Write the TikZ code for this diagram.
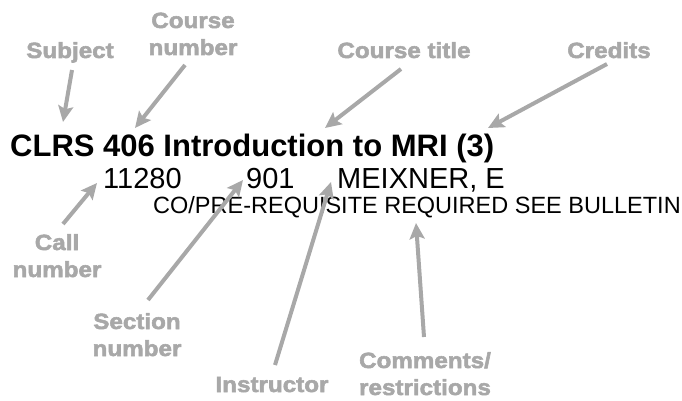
\documentclass[tikz,border=0pt]{standalone}
\usepackage{fontspec}
\setmainfont{Liberation Sans}
\newfontfamily\lblfont{Liberation Sans}[FakeStretch=1.1,FakeBold=2.5]
\usetikzlibrary{arrows.meta}
\definecolor{lblgrey}{RGB}{168,168,168}
\tikzset{
  lbl/.style={anchor=base,inner sep=0pt,text=lblgrey,font=\lblfont\bfseries\fontsize{22}{27}\selectfont},
  maintitle/.style={anchor=base west,inner sep=0pt,font=\bfseries\fontsize{31}{35}\selectfont},
  mainline/.style={anchor=base west,inner sep=0pt,font=\fontsize{29}{33}\selectfont},
  smallline/.style={anchor=base west,inner sep=0pt,font=\fontsize{23.5}{27}\selectfont},
  pointer/.style={draw=lblgrey,line width=4pt,-{Stealth[length=16pt,width=15pt,inset=3pt]}}
}
\begin{document}
\begin{tikzpicture}[x=1pt,y=-1pt]
\useasboundingbox (0,0) rectangle (682,401);
% main text
\node[maintitle] (title) at (10,156) {CLRS 406 Introduction to MRI (3)};
\node[mainline] (call) at (103,188) {11280};
\node[mainline] (sec) at (246,188) {901};
\node[mainline] (instr) at (337,188) {MEIXNER, E};
\node[smallline] (comm) at (153,213) {CO/PRE-REQUISITE REQUIRED SEE BULLETIN};
% labels
\node[lbl] (lsubj) at (70,58) {Subject};
\node[lbl] (lcn1) at (193,28) {Course};
\node[lbl] (lcn2) at (193,55) {number};
\node[lbl] (lct) at (404,58) {Course title};
\node[lbl] (lcr) at (609,58) {Credits};
\node[lbl] (lcall1) at (57,250) {Call};
\node[lbl] (lcall2) at (57,277) {number};
\node[lbl] (lsec1) at (137,329) {Section};
\node[lbl] (lsec2) at (137,356) {number};
\node[lbl] (linst) at (272,392) {Instructor};
\node[lbl] (lcom1) at (425,368) {Comments/};
\node[lbl] (lcom2) at (425,395) {restrictions};
% arrow ends
\coordinate (s0) at (72,70);   \coordinate (s1) at (63,122);
\coordinate (n0) at (185,65);  \coordinate (n1) at (135,128);
\coordinate (t0) at (401,69);  \coordinate (t1) at (325,128);
\coordinate (c0) at (607,64);  \coordinate (c1) at (488,128);
\coordinate (k0) at (63,224);  \coordinate (k1) at (97,183);
\coordinate (e0) at (148,300); \coordinate (e1) at (243,180);
\coordinate (i0) at (275,365); \coordinate (i1) at (331,182);
\coordinate (m0) at (424,337); \coordinate (m1) at (416,223);
\draw[pointer] (s0) -- (s1);
\draw[pointer] (n0) -- (n1);
\draw[pointer] (t0) -- (t1);
\draw[pointer] (c0) -- (c1);
\draw[pointer] (k0) -- (k1);
\draw[pointer] (e0) -- (e1);
\draw[pointer] (i0) -- (i1);
\draw[pointer] (m0) -- (m1);
\end{tikzpicture}
\end{document}
